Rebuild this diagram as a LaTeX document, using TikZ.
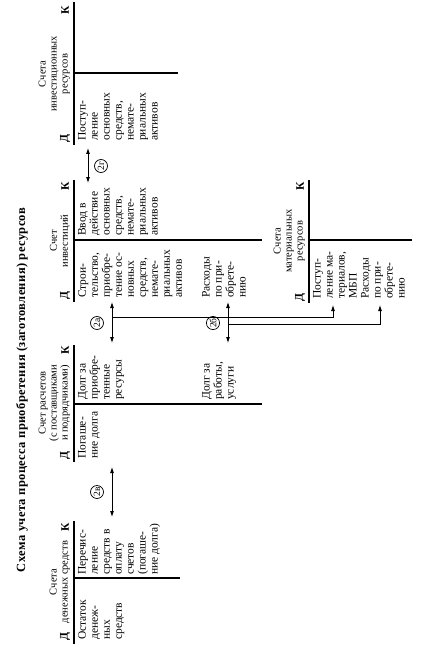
\documentclass[tikz,border=0pt]{standalone}
\usepackage{fontspec}
\setmainfont{Liberation Serif}
\usetikzlibrary{arrows.meta}
\begin{document}
\begin{tikzpicture}[x=1pt,y=-1pt,
  ent/.style={rotate=90,anchor=north west,align=left,inner sep=0pt,font=\fontsize{11.5}{12}\selectfont},
  hd/.style={rotate=90,anchor=south,align=center,inner sep=0pt,font=\fontsize{10.5}{11}\selectfont},
  dk/.style={rotate=90,inner sep=0pt,font=\bfseries\fontsize{11.5}{12}\selectfont},
  acc/.style={line width=1.1pt},
  dbl/.style={{Latex[length=6pt,width=4pt]}-{Latex[length=6pt,width=4pt]},line width=0.8pt},
  one/.style={-{Latex[length=6pt,width=4pt]},line width=0.8pt},
  lbl/.style={circle,draw,line width=0.7pt,inner sep=0.5pt,minimum size=13pt,rotate=90,font=\fontsize{9.5}{10}\selectfont}
]
\useasboundingbox (0,0) rectangle (426,647);
% title
\node[rotate=90,inner sep=0pt,font=\bfseries\fontsize{12.5}{14}\selectfont\addfontfeature{LetterSpace=3}] (title) at (22,390) {Схема учета процесса приобретения (заготовления) ресурсов};

% A4 investment resources
\node[hd] (h4) at (70,74) {Счета\\инвестиционных\\ресурсов};
\node[dk] (d4) at (65,139) {Д};
\node[dk] (k4) at (65,10) {К};
\draw[acc] (74,2) -- (74,145);
\draw[acc] (74,73) -- (178,73);
\node[ent] (e4) at (78,141) {Поступ-\\ление\\основных\\средств,\\немате-\\риальных\\активов};

% A3 investments
\node[hd] (h3) at (70,241) {Счет\\инвестиций};
\node[dk] (d3) at (65,296) {Д};
\node[dk] (k3) at (65,186) {К};
\draw[acc] (74,180) -- (74,302);
\draw[acc] (74,240) -- (262,240);
\node[ent] (e3k) at (78,236) {Ввод в\\действие\\основных\\средств,\\немате-\\риальных\\активов};
\node[ent] (e3d) at (78,298) {Строи-\\тельство,\\приобре-\\тение ос-\\новных\\средств,\\немате-\\риальных\\активов};
\node[ent] (e3r) at (202,298) {Расходы\\по при-\\обрете-\\нию};

% A2 settlements
\node[hd] (h2) at (70,403) {Счет расчетов\\(с поставщиками\\и подрядчиками)};
\node[dk] (d2) at (65,456) {Д};
\node[dk] (k2) at (65,350) {К};
\draw[acc] (74,345) -- (74,462);
\draw[acc] (74,404) -- (262,404);
\node[ent] (e2d) at (78,459) {Погаше-\\ние долга};
\node[ent] (e2k) at (78,400) {Долг за\\приобре-\\тенные\\ресурсы};
\node[ent] (e2w) at (202,400) {Долг за\\работы,\\услуги};

% A1 cash
\node[hd] (h1) at (70,582) {Счета\\денежных средств};
\node[dk] (d1) at (65,637) {Д};
\node[dk] (k1) at (65,527) {К};
\draw[acc] (74,521) -- (74,644);
\draw[acc] (74,578) -- (180,578);
\node[ent] (e1d) at (78,640) {Остаток\\денеж-\\ных\\средств};
\node[ent] (e1k) at (78,575) {Перечис-\\ление\\средств в\\оплату\\счетов\\(погаше-\\ние долга)};

% A5 material resources
\node[hd] (h5) at (305,241) {Счета\\материальных\\ресурсов};
\node[dk] (d5) at (300,298) {Д};
\node[dk] (k5) at (300,186) {К};
\draw[acc] (309,180) -- (309,303);
\draw[acc] (309,240) -- (412,240);
\node[ent] (e5) at (313,299) {Поступ-\\ление ма-\\териалов,\\МБП\\Расходы\\по при-\\обрете-\\нию};

% arrows
\coordinate (g1) at (88,148); \coordinate (g2) at (88,183);
\draw[dbl] (g1) -- (g2);
\node[lbl] (l2g) at (101,166) {2г};

\coordinate (a1) at (112,302); \coordinate (a2) at (112,343);
\draw[dbl] (a1) -- (a2);
\node[lbl] (l2a) at (97,323) {2а};

\coordinate (b1) at (228,302); \coordinate (b2) at (228,343);
\draw[dbl] (b1) -- (b2);
\node[lbl] (l2b) at (213,323) {2б};

\coordinate (v1) at (112,467); \coordinate (v2) at (112,517);
\draw[dbl] (v1) -- (v2);
\node[lbl] (l2v) at (97,492) {2в};

% branches to material resources
\coordinate (as) at (112,317);
\coordinate (at) at (333,305);
\draw[one] (as) -- (333,317) -- (at);
\coordinate (bs) at (228,324);
\coordinate (bt) at (380,305);
\draw[one] (bs) -- (380,324) -- (bt);
\end{tikzpicture}
\end{document}
